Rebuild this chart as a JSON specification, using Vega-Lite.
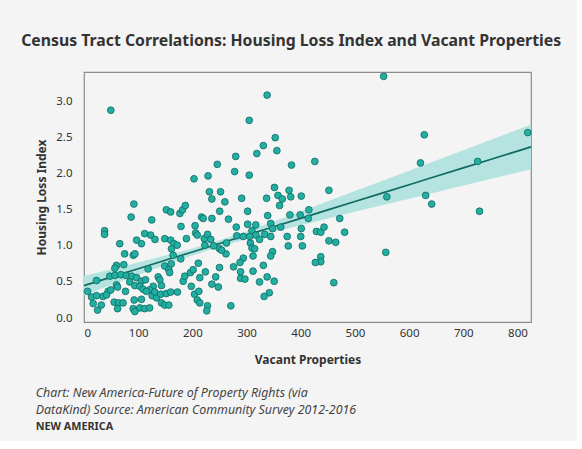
{
  "$schema": "https://vega.github.io/schema/vega-lite/v6.json",
  "background": "#f4f4f4",
  "padding": {"left": 21, "top": 32, "right": 15, "bottom": 8},
  "title": {
    "text": "Census Tract Correlations: Housing Loss Index and Vacant Properties",
    "anchor": "start",
    "frame": "bounds",
    "font": "Noto Sans",
    "fontSize": 15.8,
    "fontWeight": "bold",
    "color": "#333333",
    "offset": 21,
    "dx": -14
  },
  "datasets": {
    "pts": [
      {"vacant":38,"hli":1.21},{"vacant":38,"hli":1.16},{"vacant":66,"hli":1.03},{"vacant":97,"hli":1.08},{"vacant":106,"hli":1.03},{"vacant":112,"hli":1.17},{"vacant":123,"hli":1.15},{"vacant":131,"hli":1.09},{"vacant":149,"hli":1.10},{"vacant":160,"hli":1.08},{"vacant":166,"hli":1.03},{"vacant":172,"hli":1.01},{"vacant":161.5,"hli":0.96},{"vacant":189,"hli":1.10},{"vacant":206,"hli":1.18},{"vacant":209,"hli":1.15},{"vacant":75,"hli":0.89},{"vacant":91,"hli":0.87},{"vacant":94,"hli":0.89},{"vacant":164.5,"hli":0.87},{"vacant":178.6,"hli":0.82},{"vacant":60,"hli":0.73},{"vacant":73.4,"hli":0.74},{"vacant":57,"hli":0.69},{"vacant":47.6,"hli":0.58},{"vacant":57,"hli":0.59},{"vacant":68,"hli":0.60},{"vacant":78,"hli":0.59},{"vacant":88,"hli":0.58},{"vacant":97,"hli":0.56},{"vacant":118.4,"hli":0.68},{"vacant":106,"hli":0.51},{"vacant":113.5,"hli":0.53},{"vacant":23,"hli":0.52},{"vacant":6.5,"hli":0.37},{"vacant":137,"hli":0.57},{"vacant":149,"hli":0.72},{"vacant":161,"hli":0.75},{"vacant":156.5,"hli":0.67},{"vacant":158,"hli":0.63},{"vacant":127.7,"hli":0.44},{"vacant":143,"hli":0.45},{"vacant":140,"hli":0.53},{"vacant":84.5,"hli":0.50},{"vacant":93.7,"hli":0.45},{"vacant":103,"hli":0.44},{"vacant":60,"hli":0.46},{"vacant":62,"hli":0.43},{"vacant":44.6,"hli":0.37},{"vacant":49.5,"hli":0.39},{"vacant":35,"hli":0.30},{"vacant":41.5,"hli":0.32},{"vacant":14,"hli":0.29},{"vacant":23,"hli":0.31},{"vacant":17,"hli":0.20},{"vacant":25,"hli":0.11},{"vacant":32,"hli":0.18},{"vacant":55.7,"hli":0.22},{"vacant":64,"hli":0.21},{"vacant":72,"hli":0.21},{"vacant":62,"hli":0.13},{"vacant":76.6,"hli":0.37},{"vacant":92.6,"hli":0.25},{"vacant":106,"hli":0.26},{"vacant":90.8,"hli":0.13},{"vacant":93.8,"hli":0.09},{"vacant":103,"hli":0.14},{"vacant":112,"hli":0.13},{"vacant":121,"hli":0.14},{"vacant":121,"hli":0.39},{"vacant":125.8,"hli":0.31},{"vacant":134,"hli":0.28},{"vacant":143,"hli":0.21},{"vacant":149,"hli":0.18},{"vacant":156.5,"hli":0.18},{"vacant":109,"hli":0.40},{"vacant":115,"hli":0.37},{"vacant":130.6,"hli":0.36},{"vacant":141.7,"hli":0.33},{"vacant":152,"hli":0.34},{"vacant":160,"hli":0.36},{"vacant":172.5,"hli":0.36},{"vacant":183,"hli":0.51},{"vacant":186,"hli":0.58},{"vacant":204,"hli":0.33},{"vacant":212,"hli":0.37},{"vacant":209,"hli":0.25},{"vacant":213.7,"hli":0.21},{"vacant":198,"hli":0.44},{"vacant":196.5,"hli":0.63},{"vacant":201.5,"hli":0.67},{"vacant":213.7,"hli":0.56},{"vacant":179,"hli":1.27},{"vacant":205,"hli":1.28},{"vacant":211,"hli":0.76},
      {"vacant":49.5,"hli":2.88},{"vacant":203,"hli":1.93},{"vacant":92,"hli":1.58},{"vacant":87,"hli":1.40},{"vacant":125,"hli":1.36},{"vacant":152,"hli":1.50},{"vacant":160,"hli":1.47},{"vacant":177,"hli":1.45},{"vacant":182,"hli":1.50},{"vacant":187,"hli":1.56},
      {"vacant":338,"hli":3.09},{"vacant":305,"hli":2.74},{"vacant":353,"hli":2.50},{"vacant":331,"hli":2.39},{"vacant":319,"hli":2.28},{"vacant":356,"hli":2.32},{"vacant":280,"hli":2.24},{"vacant":246,"hli":2.13},{"vacant":278,"hli":2.03},{"vacant":305,"hli":1.98},{"vacant":383,"hli":2.12},{"vacant":229,"hli":1.97},{"vacant":231.5,"hli":1.75},{"vacant":252,"hli":1.75},{"vacant":236,"hli":1.65},{"vacant":260,"hli":1.61},{"vacant":291,"hli":1.66},{"vacant":337,"hli":1.66},{"vacant":351.5,"hli":1.81},{"vacant":358,"hli":1.70},{"vacant":366,"hli":1.65},{"vacant":361,"hli":1.56},{"vacant":378.5,"hli":1.77},{"vacant":381.5,"hli":1.68},{"vacant":401,"hli":1.69},{"vacant":250.5,"hli":1.48},{"vacant":217,"hli":1.40},{"vacant":220,"hli":1.38},{"vacant":236,"hli":1.38},{"vacant":266.6,"hli":1.37},{"vacant":302,"hli":1.48},{"vacant":339,"hli":1.42},{"vacant":380,"hli":1.43},{"vacant":399,"hli":1.43},{"vacant":415,"hli":1.50},{"vacant":414,"hli":1.38},
      {"vacant":222,"hli":1.10},{"vacant":228,"hli":1.16},{"vacant":234,"hli":1.09},{"vacant":223,"hli":1.01},{"vacant":239.5,"hli":1.00},{"vacant":250,"hli":0.96},{"vacant":263,"hli":1.04},{"vacant":262,"hli":0.89},{"vacant":281,"hli":1.26},{"vacant":282,"hli":1.14},{"vacant":294,"hli":1.13},{"vacant":302,"hli":1.30},{"vacant":310,"hli":1.21},{"vacant":317,"hli":1.29},{"vacant":317,"hli":1.15},{"vacant":307,"hli":1.04},{"vacant":310,"hli":0.97},{"vacant":312,"hli":0.86},{"vacant":324,"hli":1.09},{"vacant":333.6,"hli":1.16},{"vacant":344.6,"hli":1.31},{"vacant":348,"hli":1.24},{"vacant":344.6,"hli":1.13},{"vacant":363,"hli":1.26},{"vacant":375,"hli":1.13},{"vacant":377,"hli":1.00},{"vacant":401,"hli":1.24},{"vacant":400,"hli":1.13},{"vacant":403,"hli":1.00},{"vacant":348,"hli":0.92},{"vacant":344.6,"hli":0.86},{"vacant":331,"hli":0.73},{"vacant":338,"hli":0.57},{"vacant":351,"hli":0.51},{"vacant":342,"hli":0.35},{"vacant":332.5,"hli":0.30},{"vacant":324,"hli":0.50},{"vacant":312,"hli":0.65},{"vacant":294,"hli":0.83},{"vacant":288,"hli":0.77},{"vacant":276,"hli":0.71},{"vacant":289,"hli":0.64},{"vacant":289,"hli":0.55},{"vacant":297,"hli":0.54},{"vacant":250,"hli":0.70},{"vacant":243,"hli":0.57},{"vacant":236,"hli":0.47},{"vacant":248,"hli":0.43},{"vacant":224,"hli":0.64},{"vacant":271,"hli":0.17},{"vacant":228,"hli":0.17},{"vacant":226.6,"hli":0.10},{"vacant":315,"hli":0.96},{"vacant":306,"hli":1.13},{"vacant":254,"hli":0.94},
      {"vacant":426,"hli":2.17},{"vacant":452,"hli":1.77},{"vacant":559,"hli":1.68},{"vacant":472,"hli":1.38},{"vacant":429,"hli":1.20},{"vacant":437,"hli":1.19},{"vacant":443,"hli":1.26},{"vacant":481,"hli":1.19},{"vacant":452,"hli":1.07},{"vacant":464.6,"hli":1.05},{"vacant":437,"hli":0.85},{"vacant":437,"hli":0.78},{"vacant":427,"hli":0.77},{"vacant":557,"hli":0.91},{"vacant":461,"hli":0.49},{"vacant":621,"hli":2.15},{"vacant":553,"hli":3.35},{"vacant":628,"hli":2.54},{"vacant":726.6,"hli":2.17},{"vacant":819,"hli":2.57},{"vacant":630.6,"hli":1.70},{"vacant":641.7,"hli":1.58},{"vacant":730,"hli":1.48}
    ],
    "band": [
      {"vacant":0,"lo":0.316,"hi":0.584,"fit":0.45},
      {"vacant":50,"lo":0.457,"hi":0.676,"fit":0.567},
      {"vacant":100,"lo":0.597,"hi":0.769,"fit":0.683},
      {"vacant":150,"lo":0.735,"hi":0.865,"fit":0.80},
      {"vacant":200,"lo":0.867,"hi":0.965,"fit":0.916},
      {"vacant":240,"lo":0.964,"hi":1.054,"fit":1.009},
      {"vacant":300,"lo":1.094,"hi":1.204,"fit":1.149},
      {"vacant":350,"lo":1.193,"hi":1.339,"fit":1.266},
      {"vacant":400,"lo":1.287,"hi":1.477,"fit":1.382},
      {"vacant":450,"lo":1.380,"hi":1.617,"fit":1.499},
      {"vacant":500,"lo":1.472,"hi":1.759,"fit":1.615},
      {"vacant":550,"lo":1.563,"hi":1.900,"fit":1.732},
      {"vacant":600,"lo":1.654,"hi":2.042,"fit":1.848},
      {"vacant":650,"lo":1.745,"hi":2.184,"fit":1.965},
      {"vacant":700,"lo":1.836,"hi":2.326,"fit":2.081},
      {"vacant":750,"lo":1.926,"hi":2.469,"fit":2.198},
      {"vacant":800,"lo":2.017,"hi":2.611,"fit":2.314},
      {"vacant":825,"lo":2.062,"hi":2.682,"fit":2.372}
    ]
  },
  "vconcat": [
    {
      "width": 447,
      "height": 250,
      "title": {
        "text": ["Chart: New America-Future of Property Rights (via", "DataKind) Source: American Community Survey 2012-2016"],
        "orient": "bottom",
        "anchor": "start",
        "frame": "bounds",
        "font": "Noto Sans",
        "fontSize": 12.4,
        "fontStyle": "italic",
        "fontWeight": "normal",
        "color": "#444444",
        "lineHeight": 17,
        "offset": 21,
        "subtitle": "NEW AMERICA",
        "subtitleFont": "Noto Sans",
        "subtitleFontSize": 10.8,
        "subtitleFontWeight": "bold",
        "subtitleColor": "#333333",
        "subtitlePadding": 5
      },
      "layer": [
        {
          "data": {"name": "band"},
          "mark": {"type": "area", "color": "#b5e3df", "opacity": 1},
          "encoding": {
            "x": {"field": "vacant", "type": "quantitative", "scale": {"domain": [0, 825], "nice": false, "zero": false},
                  "axis": {"title": "Vacant Properties", "values": [0,100,200,300,400,500,600,700,800], "labelPadding": 5, "titlePadding": 16}},
            "y": {"field": "lo", "type": "quantitative", "scale": {"domain": [-0.055, 3.41], "nice": false, "zero": false},
                  "axis": {"title": "Housing Loss Index", "values": [0,0.5,1,1.5,2,2.5,3], "format": ".1f", "labelPadding": 12, "titlePadding": 7}},
            "y2": {"field": "hi"}
          }
        },
        {
          "data": {"name": "band"},
          "mark": {"type": "line", "color": "#0f6a62", "strokeWidth": 1.7},
          "encoding": {
            "x": {"field": "vacant", "type": "quantitative"},
            "y": {"field": "fit", "type": "quantitative"}
          }
        },
        {
          "data": {"name": "pts"},
          "mark": {"type": "point", "shape": "circle", "filled": true, "fill": "#22afa2", "stroke": "#0e6a62", "strokeWidth": 0.8, "size": 46, "opacity": 1},
          "encoding": {
            "x": {"field": "vacant", "type": "quantitative"},
            "y": {"field": "hli", "type": "quantitative"}
          }
        }
      ]
    }
  ],
  "config": {
    "font": "Noto Sans",
    "view": {"stroke": "#8c8c8c", "strokeWidth": 1.2},
    "axis": {"grid": false, "domain": false, "ticks": false, "labelColor": "#333333", "labelFontSize": 11.5, "labelFont": "Noto Sans", "titleColor": "#333333", "titleFontSize": 12, "titleFontWeight": "bold", "titleFont": "Noto Sans"},
    "concat": {"spacing": 0}
  }
}
